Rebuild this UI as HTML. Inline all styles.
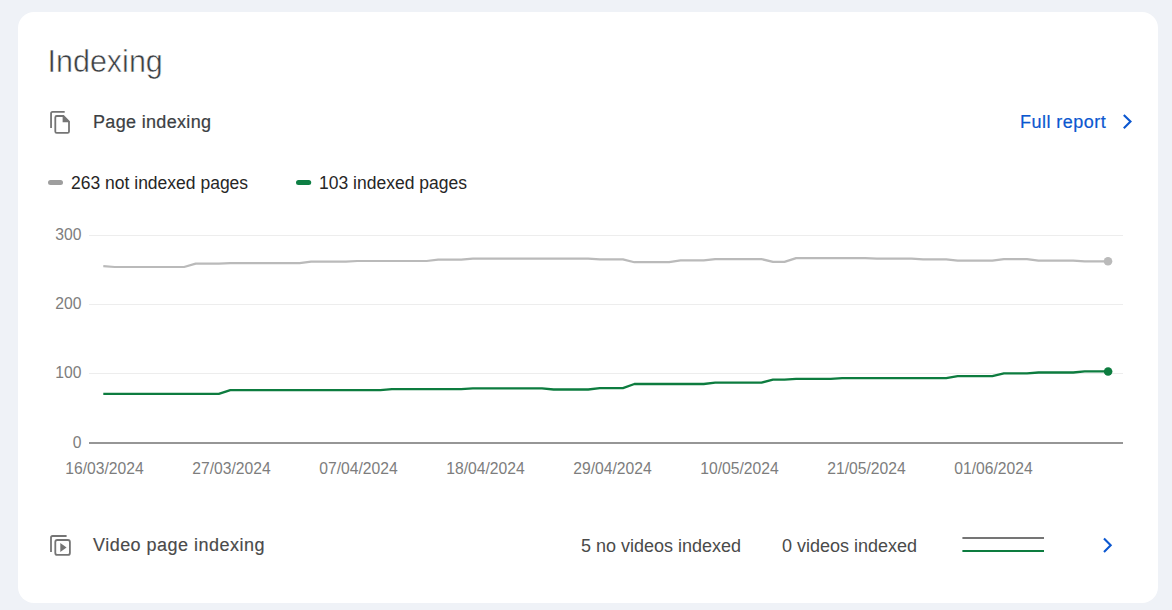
<!DOCTYPE html>
<html><head><meta charset="utf-8">
<style>
html,body{margin:0;padding:0;}
body{width:1172px;height:610px;background:#eff2f7;position:relative;overflow:hidden;font-family:"Liberation Sans",sans-serif;}
.card{position:absolute;left:18px;top:12px;width:1140px;height:591px;background:#fff;border-radius:16px;}
.t{position:absolute;white-space:nowrap;line-height:1;}
svg{position:absolute;left:0;top:0;}
</style></head><body>
<div class="card"></div>
<div class="t" id="h1" style="left:47.5px;top:46px;font-size:30.5px;letter-spacing:0px;color:#3c4043;-webkit-text-stroke:0.5px #fff;">Indexing</div>
<div class="t" id="pi" style="left:93px;top:113px;font-size:18px;letter-spacing:0.33px;color:#3c4043;-webkit-text-stroke:0.2px #3c4043;">Page indexing</div>
<div class="t" id="fr" style="left:1020px;top:113px;font-size:18px;letter-spacing:0.46px;color:#0b57d0;-webkit-text-stroke:0.2px #0b57d0;">Full report</div>
<div class="t" id="lg1" style="left:71px;top:175px;font-size:17.5px;color:#262626;">263 not indexed pages</div>
<div class="t" id="lg2" style="left:319px;top:175px;font-size:17.5px;color:#262626;">103 indexed pages</div>
<div class="t" id="vpi" style="left:93px;top:536px;font-size:18px;letter-spacing:0.48px;color:#4a4a4a;-webkit-text-stroke:0.15px #4a4a4a;">Video page indexing</div>
<div class="t" id="nv" style="left:581px;top:537px;font-size:18px;color:#4a4a4a;">5 no videos indexed</div>
<div class="t" id="v0" style="left:782px;top:537px;font-size:18px;color:#4a4a4a;">0 videos indexed</div>
<svg width="1172" height="610" viewBox="0 0 1172 610">
<g fill="none" stroke="#757575" stroke-width="1.8">
<path d="M51.05 127.9 V113.4 Q51.05 111.8 52.65 111.8 H64.7"/>
<path d="M56.7 116 H63.4 L69 121.6 V131.5 Q69 132.9 67.6 132.9 H56.7 Q55.3 132.9 55.3 131.5 V117.4 Q55.3 116 56.7 116 Z"/>
</g>
<path d="M62.6 115.3 V122.2 H69.6 Z" fill="#757575"/>
<g fill="none" stroke="#757575" stroke-width="1.8">
<path d="M51 551.9 V537.6 Q51 536 52.6 536 H66.6"/>
<path d="M57.3 540 H67.9 Q69.9 540 69.9 542 V552.9 Q69.9 554.9 67.9 554.9 H57.3 Q55.3 554.9 55.3 552.9 V542 Q55.3 540 57.3 540 Z"/>
</g>
<path d="M60.3 543 V551.9 L66.6 547.45 Z" fill="#757575"/>
<g fill="none" stroke="#0b57d0" stroke-width="2.1" stroke-miterlimit="4">
<polyline points="1123.8,114.9 1130.5,121.6 1123.8,128.3"/>
<polyline points="1104,538.5 1110.7,545.2 1104,551.9"/>
</g>
<rect x="48" y="180" width="15" height="5" rx="2.5" fill="#9e9e9e"/>
<rect x="296" y="180" width="15.2" height="5" rx="2.5" fill="#0e7f44"/>
<g stroke="#ededed" stroke-width="1">
<line x1="89" y1="235.5" x2="1123" y2="235.5"/>
<line x1="89" y1="304.5" x2="1123" y2="304.5"/>
<line x1="89" y1="373.5" x2="1123" y2="373.5"/>
</g>
<line x1="89" y1="443" x2="1123" y2="443" stroke="#969696" stroke-width="2"/>
<g font-family="Liberation Sans, sans-serif" font-size="15.7" fill="#7d7d7d">
<text x="81.5" y="240" text-anchor="end">300</text>
<text x="81.5" y="309.2" text-anchor="end">200</text>
<text x="81.5" y="378.4" text-anchor="end">100</text>
<text x="81.5" y="447.6" text-anchor="end">0</text>
<text x="104.5" y="474" text-anchor="middle">16/03/2024</text>
<text x="231.5" y="474" text-anchor="middle">27/03/2024</text>
<text x="358.5" y="474" text-anchor="middle">07/04/2024</text>
<text x="485.5" y="474" text-anchor="middle">18/04/2024</text>
<text x="612.5" y="474" text-anchor="middle">29/04/2024</text>
<text x="739.5" y="474" text-anchor="middle">10/05/2024</text>
<text x="866.5" y="474" text-anchor="middle">21/05/2024</text>
<text x="993.5" y="474" text-anchor="middle">01/06/2024</text>
</g>
<polyline points="103.3,266.1 114.8,267.0 126.4,267.0 137.9,267.0 149.5,267.0 161.0,267.0 172.6,267.0 184.1,267.0 195.7,263.6 207.2,263.6 218.8,263.6 230.3,263.2 241.9,263.2 253.4,263.2 264.9,263.2 276.5,263.2 288.0,263.2 299.6,263.2 311.1,261.7 322.7,261.7 334.2,261.7 345.8,261.7 357.3,261.0 368.9,261.0 380.4,261.0 391.9,261.0 403.5,261.0 415.0,261.0 426.6,261.0 438.1,259.7 449.7,259.7 461.2,259.7 472.8,258.6 484.3,258.6 495.9,258.6 507.4,258.6 519.0,258.6 530.5,258.6 542.0,258.6 553.6,258.6 565.1,258.6 576.7,258.6 588.2,258.6 599.8,259.4 611.3,259.4 622.9,259.4 634.4,262.2 646.0,262.2 657.5,262.2 669.1,262.2 680.6,260.4 692.1,260.4 703.7,260.4 715.2,259.1 726.8,259.1 738.3,259.1 749.9,259.1 761.4,259.1 773.0,261.9 784.5,261.9 796.1,258.1 807.6,258.1 819.2,258.1 830.7,258.1 842.2,258.1 853.8,258.1 865.3,258.1 876.9,258.7 888.4,258.7 900.0,258.7 911.5,258.7 923.1,259.4 934.6,259.4 946.2,259.4 957.7,260.6 969.2,260.6 980.8,260.6 992.3,260.6 1003.9,259.1 1015.4,259.1 1027.0,259.1 1038.5,260.6 1050.1,260.6 1061.6,260.6 1073.2,260.6 1084.7,261.3 1096.3,261.3 1107.8,261.3" fill="none" stroke="#bababa" stroke-width="2.2" stroke-linejoin="round"/>
<circle cx="1108" cy="261.3" r="4.3" fill="#bababa"/>
<polyline points="103.3,393.9 114.8,393.9 126.4,393.9 137.9,393.9 149.5,393.9 161.0,393.9 172.6,393.9 184.1,393.9 195.7,393.9 207.2,393.9 218.8,393.9 230.3,390.2 241.9,390.2 253.4,390.2 264.9,390.2 276.5,390.2 288.0,390.2 299.6,390.2 311.1,390.2 322.7,390.2 334.2,390.2 345.8,390.2 357.3,390.2 368.9,390.2 380.4,390.2 391.9,389.1 403.5,389.1 415.0,389.1 426.6,389.1 438.1,389.1 449.7,389.1 461.2,389.1 472.8,388.4 484.3,388.4 495.9,388.4 507.4,388.4 519.0,388.4 530.5,388.4 542.0,388.4 553.6,389.5 565.1,389.5 576.7,389.5 588.2,389.5 599.8,388.2 611.3,388.2 622.9,388.2 634.4,384.0 646.0,384.0 657.5,384.0 669.1,384.0 680.6,384.0 692.1,384.0 703.7,384.0 715.2,382.7 726.8,382.7 738.3,382.7 749.9,382.7 761.4,382.7 773.0,379.7 784.5,379.7 796.1,378.8 807.6,378.8 819.2,378.8 830.7,378.8 842.2,378.1 853.8,378.1 865.3,378.1 876.9,378.1 888.4,378.1 900.0,378.1 911.5,378.1 923.1,378.1 934.6,378.1 946.2,378.1 957.7,376.2 969.2,376.2 980.8,376.2 992.3,376.2 1003.9,373.4 1015.4,373.4 1027.0,373.4 1038.5,372.5 1050.1,372.5 1061.6,372.5 1073.2,372.5 1084.7,371.3 1096.3,371.3 1107.8,371.3" fill="none" stroke="#0d7c3f" stroke-width="2.3" stroke-linejoin="round"/>
<circle cx="1108.1" cy="371.5" r="4.3" fill="#0d7c3f"/>
<line x1="962.4" y1="538" x2="1044" y2="538" stroke="#757575" stroke-width="2"/>
<line x1="962.4" y1="551" x2="1044" y2="551" stroke="#0d7c3f" stroke-width="2"/>
</svg>
</body></html>
